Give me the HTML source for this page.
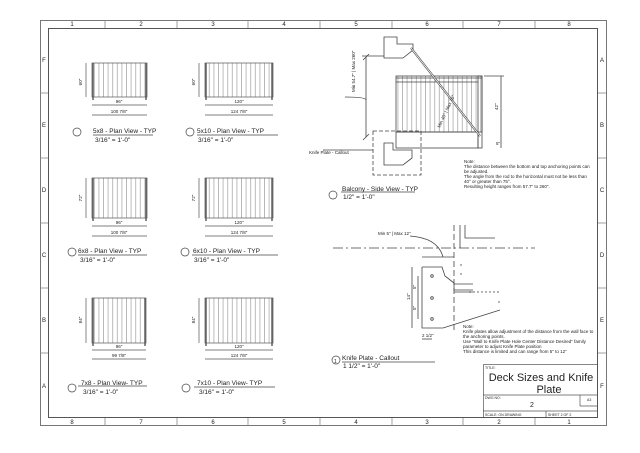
<!DOCTYPE html>
<html><head><meta charset="utf-8"><style>
html,body{margin:0;padding:0;background:#fff}
svg{display:block}
text{font-family:"Liberation Sans",sans-serif;fill:#222}
</style></head><body>
<svg width="640" height="453" viewBox="0 0 640 453" xmlns="http://www.w3.org/2000/svg">
<defs>
<pattern id="bal" x="0" y="0" width="4.6" height="10" patternUnits="userSpaceOnUse">
<line x1="2.3" y1="0" x2="2.3" y2="10" stroke="#777" stroke-width="0.5"/>
</pattern>
</defs>
<rect width="640" height="453" fill="#fff"/>
<rect x="40.5" y="20.5" width="566" height="405" fill="none" stroke="#777" stroke-width="1"/>
<rect x="48.5" y="28.5" width="549" height="389" fill="none" stroke="#555" stroke-width="1"/>
<g stroke="#888" stroke-width="0.8">
<line x1="105" y1="20" x2="105" y2="28"/><line x1="177" y1="20" x2="177" y2="28"/><line x1="248" y1="20" x2="248" y2="28"/><line x1="320" y1="20" x2="320" y2="28"/><line x1="392" y1="20" x2="392" y2="28"/><line x1="463" y1="20" x2="463" y2="28"/><line x1="535" y1="20" x2="535" y2="28"/>
<line x1="105" y1="418" x2="105" y2="426"/><line x1="177" y1="418" x2="177" y2="426"/><line x1="248" y1="418" x2="248" y2="426"/><line x1="320" y1="418" x2="320" y2="426"/><line x1="392" y1="418" x2="392" y2="426"/><line x1="463" y1="418" x2="463" y2="426"/><line x1="535" y1="418" x2="535" y2="426"/>
<line x1="40" y1="93" x2="48" y2="93"/><line x1="40" y1="158" x2="48" y2="158"/><line x1="40" y1="223" x2="48" y2="223"/><line x1="40" y1="288" x2="48" y2="288"/><line x1="40" y1="353" x2="48" y2="353"/>
<line x1="598" y1="93" x2="606" y2="93"/><line x1="598" y1="158" x2="606" y2="158"/><line x1="598" y1="223" x2="606" y2="223"/><line x1="598" y1="288" x2="606" y2="288"/><line x1="598" y1="353" x2="606" y2="353"/>
</g>
<g font-size="6" text-anchor="middle">
<text x="72" y="26">1</text><text x="141" y="26">2</text><text x="213" y="26">3</text><text x="284" y="26">4</text><text x="356" y="26">5</text><text x="427" y="26">6</text><text x="499" y="26">7</text><text x="569" y="26">8</text>
<text x="72" y="424">8</text><text x="141" y="424">7</text><text x="213" y="424">6</text><text x="284" y="424">5</text><text x="356" y="424">4</text><text x="427" y="424">3</text><text x="499" y="424">2</text><text x="569" y="424">1</text>
<text x="44" y="62">F</text><text x="44" y="127">E</text><text x="44" y="192">D</text><text x="44" y="257">C</text><text x="44" y="322">B</text><text x="44" y="388">A</text>
<text x="602" y="62">A</text><text x="602" y="127">B</text><text x="602" y="192">C</text><text x="602" y="257">D</text><text x="602" y="322">E</text><text x="602" y="388">F</text>
</g>

<g stroke="#555" stroke-width="0.7" fill="none">
<rect x="92" y="63" width="55" height="34" fill="url(#bal)"/>
<line x1="93" y1="63" x2="93" y2="100" stroke-width="1.4"/><line x1="146" y1="63" x2="146" y2="100" stroke-width="1.4"/>
<line x1="86" y1="63" x2="86" y2="97"/><line x1="92" y1="105" x2="147" y2="105"/><line x1="92" y1="115" x2="147" y2="115"/>
<rect x="205" y="63" width="68" height="34" fill="url(#bal)"/>
<line x1="206" y1="63" x2="206" y2="100" stroke-width="1.4"/><line x1="272" y1="63" x2="272" y2="100" stroke-width="1.4"/>
<line x1="199" y1="63" x2="199" y2="97"/><line x1="205" y1="105" x2="273" y2="105"/><line x1="205" y1="115" x2="273" y2="115"/>
<rect x="92" y="178" width="55" height="40" fill="url(#bal)"/>
<line x1="93" y1="178" x2="93" y2="221" stroke-width="1.4"/><line x1="146" y1="178" x2="146" y2="221" stroke-width="1.4"/>
<line x1="86" y1="178" x2="86" y2="218"/><line x1="92" y1="226" x2="147" y2="226"/><line x1="92" y1="236" x2="147" y2="236"/>
<rect x="205" y="178" width="68" height="40" fill="url(#bal)"/>
<line x1="206" y1="178" x2="206" y2="221" stroke-width="1.4"/><line x1="272" y1="178" x2="272" y2="221" stroke-width="1.4"/>
<line x1="199" y1="178" x2="199" y2="218"/><line x1="205" y1="226" x2="273" y2="226"/><line x1="205" y1="236" x2="273" y2="236"/>
<rect x="92" y="298" width="54" height="45" fill="url(#bal)"/>
<line x1="93" y1="298" x2="93" y2="346" stroke-width="1.4"/><line x1="145" y1="298" x2="145" y2="346" stroke-width="1.4"/>
<line x1="86" y1="298" x2="86" y2="343"/><line x1="92" y1="350" x2="146" y2="350"/><line x1="92" y1="359" x2="146" y2="359"/>
<rect x="205" y="298" width="68" height="45" fill="url(#bal)"/>
<line x1="206" y1="298" x2="206" y2="346" stroke-width="1.4"/><line x1="272" y1="298" x2="272" y2="346" stroke-width="1.4"/>
<line x1="199" y1="298" x2="199" y2="343"/><line x1="205" y1="350" x2="273" y2="350"/><line x1="205" y1="359" x2="273" y2="359"/>
</g>
<g font-size="4.5" text-anchor="middle">
<text x="119" y="103">96"</text><text x="119" y="113">100 7/8"</text><text x="82" y="82" transform="rotate(-90 82 82)">60"</text>
<text x="239" y="103">120"</text><text x="239" y="113">124 7/8"</text><text x="195" y="82" transform="rotate(-90 195 82)">60"</text>
<text x="119" y="224">96"</text><text x="119" y="234">100 7/8"</text><text x="82" y="198" transform="rotate(-90 82 198)">72"</text>
<text x="239" y="224">120"</text><text x="239" y="234">124 7/8"</text><text x="195" y="198" transform="rotate(-90 195 198)">72"</text>
<text x="119" y="348">96"</text><text x="119" y="357">99 7/8"</text><text x="82" y="320" transform="rotate(-90 82 320)">84"</text>
<text x="239" y="348">120"</text><text x="239" y="357">124 7/8"</text><text x="195" y="320" transform="rotate(-90 195 320)">84"</text>
</g>

<g fill="none" stroke="#444" stroke-width="0.7">
<circle cx="77" cy="132" r="4"/><line x1="93" y1="135" x2="153" y2="135"/>
<circle cx="190" cy="132" r="4"/><line x1="197" y1="135" x2="278" y2="135"/>
<circle cx="72" cy="252" r="4"/><line x1="78" y1="255" x2="147" y2="255"/>
<circle cx="185" cy="252" r="4"/><line x1="192" y1="255" x2="278" y2="255"/>
<circle cx="72" cy="388" r="4"/><line x1="78" y1="386" x2="147" y2="386"/>
<circle cx="186" cy="388" r="4"/><line x1="194" y1="387" x2="275" y2="387"/>
<circle cx="333" cy="195" r="4"/><line x1="341" y1="192" x2="415" y2="192"/>
<circle cx="336" cy="360" r="4"/><line x1="342" y1="362" x2="435" y2="362"/>
</g>
<g font-size="6.5">
<text x="93" y="133">5x8 - Plan View - TYP</text><text x="95" y="142">3/16" = 1'-0"</text>
<text x="197" y="133">5x10 - Plan View - TYP</text><text x="198" y="142">3/16" = 1'-0"</text>
<text x="78" y="253">6x8 - Plan View - TYP</text><text x="80" y="262">3/16" = 1'-0"</text>
<text x="193" y="253">6x10 - Plan View - TYP</text><text x="194" y="262">3/16" = 1'-0"</text>
<text x="81" y="385">7x8 - Plan View- TYP</text><text x="83" y="394">3/16" = 1'-0"</text>
<text x="197" y="385">7x10 - Plan View- TYP</text><text x="199" y="394">3/16" = 1'-0"</text>
<text x="342" y="191">Balcony - Side View - TYP</text><text x="343" y="199">1/2" = 1'-0"</text>
<text x="342" y="360">Knife Plate - Callout</text><text x="343" y="368">1 1/2" = 1'-0"</text>
</g>
<text x="334" y="363" font-size="5">1</text>

<g stroke="#444" stroke-width="0.8" fill="none">
<path d="M384 37 H397 V44 L413 44 V50 L403 58 H384 Z" fill="#fff"/>
<rect x="396" y="76" width="86" height="56" fill="url(#bal)"/>
<line x1="396" y1="78" x2="482" y2="78"/><line x1="396" y1="82" x2="478" y2="82"/>
<rect x="478" y="76" width="4" height="72"/>
<rect x="396" y="132" width="82" height="16"/>
<line x1="411" y1="48" x2="480" y2="136" stroke-width="2"/>
<line x1="411" y1="48" x2="480" y2="136" stroke="#fff" stroke-width="0.8"/>
<rect x="373" y="131" width="48" height="44" stroke-dasharray="4,2"/>
<path d="M384 143 H393 V150 H412 V158 L403 165 H384 Z" fill="#fff"/>
<line x1="366" y1="57" x2="366" y2="137"/><line x1="362" y1="56" x2="384" y2="56"/>
<line x1="363" y1="60" x2="369" y2="54"/><line x1="363" y1="140" x2="369" y2="134"/>
<line x1="501" y1="76" x2="501" y2="148"/>
<line x1="484" y1="76" x2="504" y2="76"/>
<path d="M345 97 Q366 97 366 100"/>
<line x1="323" y1="150" x2="373" y2="150"/>
</g>
<g font-size="4.5">
<text x="355" y="92" transform="rotate(-90 355 92)">Min 54.7" | Max 260"</text>
<text x="440" y="128" transform="rotate(-65 440 128)">Min 40° | Max 70°</text>
<text x="498" y="110" transform="rotate(-90 498 110)">42"</text>
<text x="496" y="145">5"</text>
<text x="309" y="154">Knife Plate - Callout</text>
<text x="464" y="163">Note:</text>
<text x="464" y="168">The distance between the bottom and top anchoring points can</text>
<text x="464" y="173">be adjusted.</text>
<text x="464" y="178">The angle from the rod to the horizontal must not be less than</text>
<text x="464" y="183">40° or greater than 75°.</text>
<text x="464" y="188">Resulting height ranges from 57.7" to 260".</text>
</g>

<g stroke="#444" stroke-width="0.8" fill="none">
<line x1="333" y1="248" x2="535" y2="248" stroke-dasharray="10,3,2,3"/>
<line x1="454" y1="225" x2="454" y2="330" stroke-dasharray="6,3"/>
<line x1="460" y1="225" x2="460" y2="248"/>
<path d="M465 225 V238 H495"/>
<path d="M422 267 H442 L445 276 L454 283 V290 H473"/>
<path d="M422 267 V328 H443 L500 310"/>
<line x1="454" y1="284" x2="473" y2="284"/>
<line x1="454" y1="292" x2="473" y2="292"/>
<circle cx="432" cy="276" r="1.3"/><circle cx="432" cy="298" r="1.3"/><circle cx="432" cy="319" r="1.3"/>
<line x1="412" y1="267" x2="412" y2="328"/>
<line x1="418" y1="276" x2="418" y2="319"/>
<line x1="422" y1="257" x2="454" y2="257"/>
<path d="M410 236 Q438 238 443 257"/>
<line x1="422" y1="339" x2="432" y2="339"/>
</g>
<g fill="#444"><circle cx="461" cy="265" r="0.7"/><circle cx="461" cy="274" r="0.7"/><circle cx="499" cy="302" r="0.7"/>
<circle cx="470" cy="292" r="0.7"/><circle cx="474" cy="292" r="0.7"/><circle cx="478" cy="292" r="0.7"/><circle cx="482" cy="292" r="0.7"/><circle cx="486" cy="292" r="0.7"/><circle cx="490" cy="292" r="0.7"/><circle cx="494" cy="292" r="0.7"/><circle cx="498" cy="292" r="0.7"/></g>
<g font-size="4.5">
<text x="378" y="235">Min 5" | Max 12"</text>
<text x="410" y="300" transform="rotate(-90 410 300)">14"</text>
<text x="416" y="289" transform="rotate(-90 416 289)">5"</text>
<text x="416" y="310" transform="rotate(-90 416 310)">5"</text>
<text x="422" y="337">2 1/2"</text>
<text x="463" y="328">Note:</text>
<text x="463" y="333">Knife plates allow adjustment of the distance from the wall face to</text>
<text x="463" y="338">the anchoring points.</text>
<text x="463" y="343">Use "Wall to Knife Plate Hole Center Distance Desired" family</text>
<text x="463" y="348">parameter to adjust Knife Plate position</text>
<text x="463" y="353">This distance is limited and can range from 5" to 12"</text>
</g>

<g stroke="#555" stroke-width="0.7" fill="none">
<rect x="483.5" y="364.5" width="114" height="53"/>
<line x1="483" y1="395" x2="598" y2="395"/>
<line x1="483" y1="411" x2="598" y2="411"/>
<line x1="580" y1="395" x2="580" y2="406"/>
<line x1="580" y1="406" x2="598" y2="406"/>
<line x1="546" y1="411" x2="546" y2="418"/>
</g>
<g font-size="3.5"><text x="485" y="369">TITLE:</text><text x="485" y="399">DWG NO:</text><text x="485" y="416">SCALE: ON DRAWING</text><text x="548" y="416">SHEET 2 OF 2</text><text x="587" y="401">A3</text></g>
<text x="541" y="381" font-size="11" text-anchor="middle">Deck Sizes and Knife</text>
<text x="549" y="393" font-size="11" text-anchor="middle">Plate</text>
<text x="532" y="407" font-size="7" text-anchor="middle">2</text>
</svg>
</body></html>
